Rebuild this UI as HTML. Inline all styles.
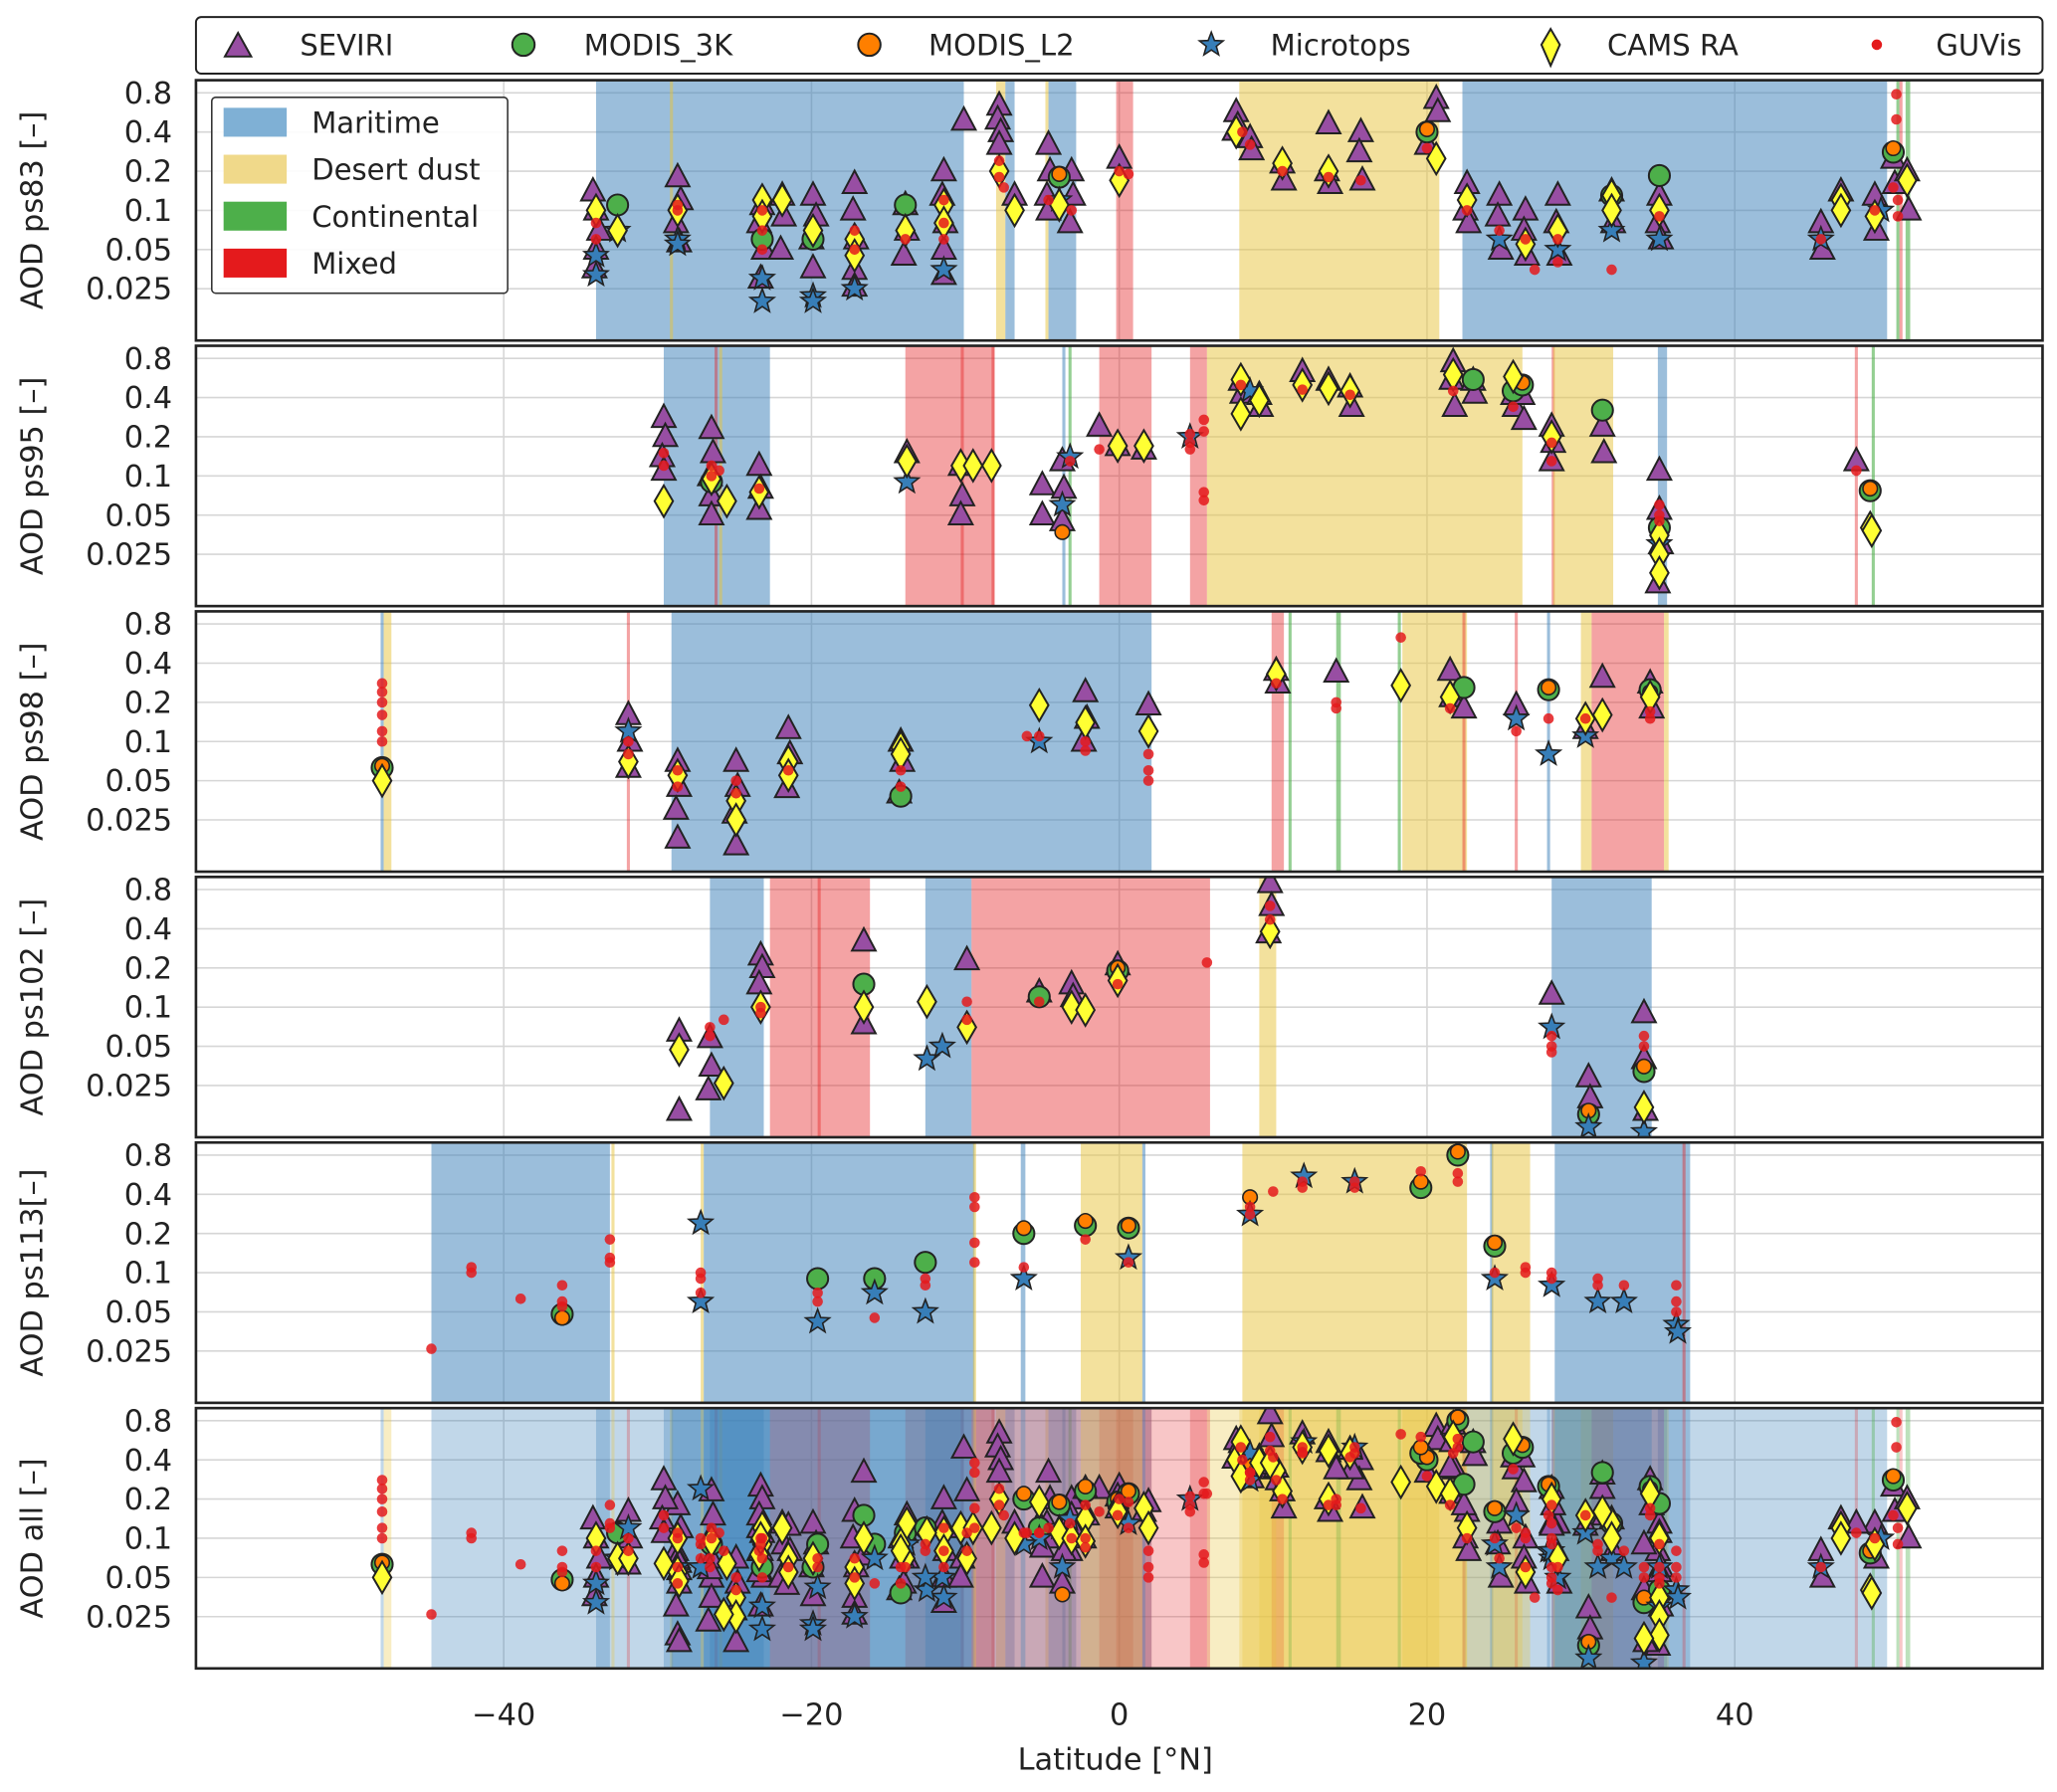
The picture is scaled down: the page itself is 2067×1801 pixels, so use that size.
<!DOCTYPE html>
<html><head><meta charset="utf-8">
<style>
html,body{margin:0;padding:0;background:#fff;}
svg{display:block;font-family:"DejaVu Sans","Liberation Sans",sans-serif;}
</style></head>
<body>
<svg id="chart" xmlns="http://www.w3.org/2000/svg" width="2067" height="1801" viewBox="0 0 1564 1363" preserveAspectRatio="none">
<g id="top-legend">
  <rect x="149" y="13" width="1404" height="43" rx="4" fill="#fff" stroke="#222" stroke-width="1.5"/>
  <g><polygon points="181,25 171,43 191,43" fill="#984ea3" stroke="#222" stroke-width="1.5"/><text x="228" y="42" font-size="22" fill="#222">SEVIRI</text></g>
  <g><circle cx="398" cy="34" r="8.5" fill="#4daf4a" stroke="#222" stroke-width="1.5"/><text x="444" y="42" font-size="22" fill="#222">MODIS_3K</text></g>
  <g><circle cx="661" cy="34" r="8.5" fill="#ff7f00" stroke="#222" stroke-width="1.5"/><text x="706" y="42" font-size="22" fill="#222">MODIS_L2</text></g>
  <g><polygon id="legstar" fill="#377eb8" stroke="#222" stroke-width="1.2"/><text x="966" y="42" font-size="22" fill="#222">Microtops</text></g>
  <g><polygon points="1179,22 1186,34 1179,50 1172,34" fill="#ffff33" stroke="#222" stroke-width="1.5"/><text x="1222" y="42" font-size="22" fill="#222">CAMS RA</text></g>
  <g><circle cx="1427" cy="34" r="4" fill="#e41a1c"/><text x="1472" y="42" font-size="22" fill="#222">GUVis</text></g>
</g>
<g id="panels"></g>
<g id="xaxis"></g>
<text x="848" y="1346" font-size="23" text-anchor="middle" fill="#222">Latitude [°N]</text>
</svg>
<script>
// ---------- data ----------
const xTicks = [-40,-20,0,20,40];
const yTicks = [0.8,0.4,0.2,0.1,0.05,0.025];
const yTickLabels = ["0.8","0.4","0.2","0.1","0.05","0.025"];
const panelNames = ["ps83","ps95","ps98","ps102","ps113","all"];
const panelLabels = ["AOD ps83 [–]","AOD ps95 [–]","AOD ps98 [–]","AOD ps102 [–]","AOD ps113[–]","AOD all [–]"];

const p1Regions = [[-34.0,-10.1,"M"],[-29.2,-29.0,"D"],[-8.0,-7.4,"D"],[-7.4,-6.8,"M"],[-4.8,-4.6,"D"],[-4.6,-2.8,"M"],[-0.2,0.9,"X"],[7.8,20.8,"D"],[22.3,49.9,"M"],[50.5,50.7,"C"],[50.7,50.9,"X"],[51.1,51.4,"C"]];
const p2Regions = [[-29.6,-22.7,"M"],[-26.3,-26.1,"X"],[-26.0,-25.8,"D"],[-13.9,-8.1,"X"],[-10.3,-10.1,"X"],[-8.3,-8.1,"X"],[-3.7,-3.5,"M"],[-3.3,-3.1,"C"],[-1.3,2.1,"X"],[4.6,5.7,"X"],[5.7,26.2,"D"],[28.1,28.3,"X"],[28.2,32.1,"D"],[35.0,35.6,"M"],[47.8,48.0,"X"],[48.9,49.1,"C"]];
const p3Regions = [[-48.0,-47.8,"M"],[-47.8,-47.3,"D"],[-32.0,-31.8,"X"],[-29.1,2.1,"M"],[9.9,10.7,"X"],[11.0,11.2,"C"],[14.1,14.4,"C"],[18.1,18.3,"C"],[18.4,22.6,"D"],[22.3,22.5,"X"],[25.7,25.9,"X"],[27.8,28.0,"M"],[30.0,30.7,"D"],[30.7,35.4,"X"],[35.4,35.7,"D"]];
const p4Regions = [[-26.6,-23.1,"M"],[-22.7,-16.2,"X"],[-19.6,-19.4,"X"],[-12.6,-9.6,"M"],[-9.6,5.9,"X"],[9.1,10.2,"D"],[28.1,34.6,"M"]];
const p5Regions = [[-44.7,-33.1,"M"],[-33.0,-32.8,"D"],[-27.2,-27.0,"D"],[-27.0,-9.4,"M"],[-9.5,-9.3,"D"],[-6.4,-6.1,"M"],[-2.5,1.5,"D"],[1.5,1.7,"M"],[8.0,22.6,"D"],[24.1,24.3,"M"],[24.2,26.7,"D"],[28.3,37.1,"M"],[36.6,36.8,"X"]];

const p1Seviri=[[-34.2,0.14],[-34,0.1],[-33.8,0.07],[-34,0.05],[-34.1,0.036],[-28.7,0.18],[-28.5,0.12],[-28.8,0.08],[-28.6,0.057],[-23.2,0.11],[-23.4,0.08],[-23.1,0.05],[-23.3,0.03],[-21.9,0.13],[-21.8,0.09],[-22,0.05],[-19.9,0.13],[-19.7,0.09],[-20,0.06],[-19.9,0.036],[-17.2,0.16],[-17.3,0.1],[-17.1,0.06],[-17.2,0.035],[-17.2,0.026],[-13.9,0.11],[-13.8,0.07],[-14,0.045],[-11.4,0.2],[-11.5,0.13],[-11.3,0.08],[-11.4,0.05],[-11.4,0.032],[-10.1,0.49],[-7.8,0.64],[-7.9,0.5],[-7.7,0.4],[-7.8,0.32],[-6.8,0.13],[-4.6,0.32],[-4.5,0.2],[-4.7,0.13],[-4.6,0.1],[-3.1,0.2],[-3,0.13],[-3.2,0.08],[0,0.25],[7.6,0.57],[7.7,0.45],[7.5,0.41],[8.5,0.36],[8.6,0.29],[10.6,0.23],[10.7,0.17],[13.6,0.46],[13.5,0.2],[13.7,0.16],[15.7,0.4],[15.6,0.28],[15.8,0.17],[20.6,0.72],[20.7,0.57],[20,0.32],[22.6,0.16],[22.5,0.1],[22.7,0.08],[24.7,0.13],[24.6,0.09],[24.8,0.05],[26.4,0.1],[26.3,0.07],[26.5,0.045],[28.5,0.13],[28.4,0.08],[28.6,0.045],[32,0.14],[32.1,0.08],[35.1,0.13],[35,0.08],[35.2,0.06],[45.6,0.08],[45.7,0.05],[46.9,0.14],[49.1,0.13],[49.2,0.07],[50.3,0.25],[50.4,0.16],[51.2,0.2],[51.3,0.1]];
const p1Modis3k=[[-32.6,0.11],[-23.2,0.06],[-19.9,0.06],[-13.9,0.11],[-3.9,0.18],[20,0.4],[32,0.13],[35.1,0.185],[50.3,0.28]];
const p1ModisL2=[[20,0.42],[50.3,0.3],[-3.9,0.19]];
const p1Microtops=[[-34,0.045],[-34,0.032],[-32.6,0.07],[-28.7,0.06],[-28.7,0.055],[-23.2,0.03],[-23.2,0.02],[-19.9,0.022],[-19.9,0.02],[-17.2,0.025],[-11.4,0.035],[-3.9,0.12],[24.7,0.06],[28.5,0.05],[35.1,0.06],[32,0.07],[49.5,0.1],[45.6,0.06]];
const p1Cams=[[-34,0.1],[-32.6,0.07],[-28.7,0.1],[-23.2,0.12],[-23.2,0.09],[-21.9,0.12],[-19.9,0.07],[-17.2,0.06],[-17.2,0.045],[-13.9,0.07],[-11.4,0.11],[-11.4,0.08],[-7.8,0.2],[-6.8,0.1],[-3.9,0.11],[0,0.17],[7.6,0.4],[10.6,0.23],[13.6,0.2],[20.6,0.25],[22.6,0.12],[26.4,0.055],[28.5,0.07],[32,0.13],[32,0.1],[35.1,0.1],[46.9,0.12],[46.9,0.1],[51.2,0.17],[49.1,0.09]];
const p1Guvis=[[-34,0.08],[-34,0.06],[-28.7,0.11],[-28.7,0.1],[-23.2,0.1],[-23.2,0.07],[-23.2,0.05],[-17.2,0.07],[-17.2,0.05],[-13.9,0.06],[-11.4,0.12],[-11.4,0.08],[-11.4,0.06],[-7.8,0.24],[-7.8,0.18],[-7.5,0.15],[-4.6,0.12],[-3.1,0.1],[0,0.2],[0.6,0.19],[8,0.4],[8.5,0.32],[10.6,0.2],[13.6,0.18],[15.7,0.17],[20,0.3],[22.6,0.1],[24.7,0.07],[26.4,0.06],[27,0.035],[28.5,0.06],[28.5,0.04],[32,0.035],[35.1,0.09],[45.6,0.06],[49.1,0.1],[50.5,0.78],[50.5,0.5],[50.3,0.15],[50.6,0.12],[50.6,0.09]];

const p2Seviri=[[-29.6,0.28],[-29.5,0.2],[-29.7,0.14],[-29.6,0.11],[-26.5,0.23],[-26.4,0.15],[-26.6,0.1],[-26.5,0.07],[-26.5,0.05],[-23.4,0.12],[-23.3,0.08],[-23.4,0.055],[-13.8,0.15],[-10.3,0.12],[-10.2,0.07],[-10.3,0.05],[-5,0.085],[-5,0.05],[-3.7,0.13],[-3.6,0.08],[-3.7,0.045],[-1.3,0.24],[-0.1,0.17],[1.6,0.16],[7.9,0.54],[8,0.43],[9.1,0.42],[9.2,0.34],[11.9,0.63],[13.6,0.54],[15,0.48],[15.1,0.34],[21.7,0.75],[21.6,0.55],[21.8,0.34],[23,0.54],[23.1,0.43],[25.6,0.42],[25.7,0.34],[26.2,0.42],[26.3,0.27],[28.1,0.24],[28.2,0.18],[28.1,0.13],[31.4,0.24],[31.5,0.15],[35.1,0.11],[35.1,0.055],[35.2,0.03],[35,0.015],[47.9,0.13]];
const p2Modis3k=[[-26.5,0.09],[23,0.55],[25.6,0.45],[26.2,0.5],[31.4,0.32],[35.1,0.04],[48.8,0.077]];
const p2ModisL2=[[-3.7,0.037],[26.2,0.52],[48.8,0.08]];
const p2Microtops=[[-13.8,0.09],[-3.7,0.06],[-3.2,0.14],[4.6,0.2],[8.5,0.45],[35.1,0.03]];
const p2Cams=[[-29.6,0.064],[-26.5,0.095],[-25.5,0.064],[-23.4,0.075],[-13.8,0.13],[-10.3,0.12],[-9.5,0.12],[-8.3,0.12],[-0.1,0.17],[1.6,0.17],[7.9,0.55],[7.9,0.3],[9.1,0.38],[11.9,0.5],[13.6,0.47],[15,0.45],[21.7,0.6],[25.6,0.58],[28.1,0.2],[35.1,0.035],[35.1,0.025],[35.1,0.018],[48.8,0.04],[48.9,0.038]];
const p2Guvis=[[-29.6,0.15],[-29.6,0.12],[-26.5,0.12],[-26.5,0.1],[-26,0.11],[-23.4,0.08],[-3.2,0.13],[-1.3,0.16],[4.6,0.21],[4.6,0.18],[4.6,0.16],[5.5,0.27],[5.5,0.22],[5.5,0.065],[5.5,0.075],[7.9,0.5],[11.9,0.46],[15,0.42],[21.7,0.45],[25.6,0.34],[28.1,0.18],[28.1,0.13],[35.1,0.06],[35.1,0.05],[35.1,0.045],[47.9,0.11]];

const p3Seviri=[[-31.9,0.16],[-31.8,0.1],[-31.9,0.063],[-28.7,0.07],[-28.6,0.045],[-28.8,0.03],[-28.7,0.018],[-24.9,0.07],[-24.8,0.045],[-25,0.028],[-24.9,0.016],[-21.5,0.125],[-21.4,0.08],[-21.6,0.044],[-14.2,0.1],[-14.1,0.07],[-14.3,0.04],[-2.2,0.24],[-2.1,0.15],[-2.3,0.1],[1.9,0.19],[10.2,0.35],[10.3,0.28],[14.1,0.34],[21.5,0.35],[21.6,0.22],[22.4,0.18],[25.8,0.19],[30.3,0.125],[31.4,0.31],[34.5,0.28],[34.6,0.18]];
const p3Modis3k=[[-47.9,0.063],[-14.2,0.038],[22.4,0.26],[27.9,0.25],[34.5,0.25]];
const p3ModisL2=[[-47.9,0.065],[27.9,0.26],[34.5,0.24]];
const p3Microtops=[[-31.9,0.12],[-5.2,0.1],[25.8,0.15],[27.9,0.08],[30.3,0.11]];
const p3Cams=[[-47.9,0.05],[-31.9,0.07],[-28.7,0.055],[-24.9,0.035],[-24.9,0.025],[-21.5,0.07],[-21.5,0.055],[-14.2,0.09],[-14.2,0.08],[-5.2,0.19],[-2.2,0.14],[1.9,0.12],[10.2,0.33],[18.3,0.27],[21.5,0.22],[30.3,0.15],[31.4,0.16],[34.5,0.22]];
const p3Guvis=[[-47.9,0.28],[-47.9,0.24],[-47.9,0.2],[-47.9,0.16],[-47.9,0.12],[-47.9,0.1],[-31.9,0.1],[-31.9,0.08],[-28.7,0.06],[-28.7,0.045],[-24.9,0.05],[-24.9,0.04],[-21.5,0.06],[-14.2,0.06],[-14.2,0.045],[-5.2,0.11],[-6,0.11],[-2.2,0.1],[-2.2,0.085],[1.9,0.08],[1.9,0.06],[1.9,0.05],[10.2,0.28],[14.1,0.2],[14.1,0.18],[18.3,0.63],[21.5,0.18],[25.8,0.12],[27.9,0.15],[30.3,0.15],[34.5,0.17],[34.5,0.15]];

const p4Seviri=[[-28.6,0.065],[-28.6,0.016],[-26.6,0.058],[-26.5,0.035],[-26.7,0.023],[-23.3,0.25],[-23.2,0.2],[-23.4,0.15],[-16.6,0.32],[-16.6,0.074],[-9.9,0.23],[-5.2,0.13],[-3.1,0.15],[-3,0.12],[-0.1,0.21],[9.8,0.9],[9.9,0.6],[9.7,0.37],[28.1,0.125],[30.5,0.029],[30.6,0.02],[34.1,0.09],[34.1,0.04],[34.2,0.016]];
const p4Modis3k=[[-16.6,0.15],[-5.2,0.12],[-0.1,0.19],[30.5,0.015],[34.1,0.032]];
const p4ModisL2=[[-0.1,0.2],[30.5,0.016],[34.1,0.035]];
const p4Microtops=[[-12.5,0.04],[-11.5,0.05],[28.1,0.07],[30.5,0.012],[34.1,0.011]];
const p4Cams=[[-28.6,0.047],[-25.7,0.026],[-23.3,0.1],[-16.6,0.1],[-12.5,0.11],[-9.9,0.07],[-3.1,0.1],[-2.2,0.095],[-0.1,0.16],[9.8,0.38],[34.1,0.017]];
const p4Guvis=[[-26.6,0.07],[-26.6,0.06],[-25.7,0.08],[-23.3,0.1],[-23.3,0.09],[-9.9,0.11],[-9.9,0.08],[-5.2,0.11],[-0.1,0.15],[5.7,0.22],[9.8,0.6],[9.8,0.47],[28.1,0.06],[28.1,0.05],[28.1,0.045],[34.1,0.06],[34.1,0.05]];

const p5Seviri=[];
const p5Modis3k=[[-36.2,0.048],[-19.6,0.09],[-15.9,0.09],[-12.6,0.12],[-6.2,0.2],[-2.2,0.23],[0.6,0.22],[19.6,0.45],[22,0.8],[24.4,0.16]];
const p5ModisL2=[[-36.2,0.045],[-6.2,0.22],[-2.2,0.25],[0.6,0.23],[8.5,0.38],[19.6,0.5],[22,0.85],[24.4,0.17]];
const p5Microtops=[[-27.2,0.24],[-27.2,0.06],[-19.6,0.042],[-15.9,0.07],[-12.6,0.05],[-6.2,0.09],[0.6,0.13],[8.5,0.28],[12,0.55],[15.3,0.5],[24.4,0.09],[28.1,0.08],[31.1,0.06],[32.8,0.06],[36.2,0.04],[36.3,0.035]];
const p5Cams=[];
const p5Guvis=[[-44.7,0.026],[-42.1,0.11],[-42.1,0.1],[-38.9,0.063],[-36.2,0.08],[-36.2,0.06],[-36.2,0.055],[-33.1,0.18],[-33.1,0.13],[-33.1,0.12],[-27.2,0.1],[-27.2,0.09],[-27.2,0.07],[-19.6,0.07],[-19.6,0.06],[-15.9,0.045],[-12.6,0.09],[-12.6,0.08],[-9.4,0.38],[-9.4,0.32],[-9.4,0.17],[-9.4,0.12],[-6.2,0.11],[-2.2,0.18],[0.6,0.12],[8.5,0.32],[8.5,0.28],[10,0.42],[11.9,0.5],[11.9,0.45],[15.3,0.5],[15.3,0.45],[19.6,0.6],[22,0.58],[22,0.5],[24.4,0.1],[26.4,0.11],[26.4,0.1],[28.1,0.1],[28.1,0.09],[31.1,0.09],[31.1,0.08],[32.8,0.08],[36.2,0.08],[36.2,0.06],[36.2,0.05]];

// ---------- rendering ----------
const NS="http://www.w3.org/2000/svg";
const svg=document.getElementById('chart');
const panelsG=document.getElementById('panels');
const X0=149, X1=1553, LAT0=-60, LAT1=60;
const PH=198, PGAP=202, PTOP=61;
function xScale(lat){return X0+(lat-LAT0)/(LAT1-LAT0)*(X1-X0);}
function yScale(v,top){return top+(0-Math.log10(v))/2*PH;}
function mk(tag,attrs,parent){const e=document.createElementNS(NS,tag);for(const k in attrs)e.setAttribute(k,attrs[k]);parent.appendChild(e);return e;}
function starPts(cx,cy,R,r){let p=[];for(let i=0;i<10;i++){const a=-Math.PI/2+i*Math.PI/5;const rr=i%2?r:R;p.push((cx+rr*Math.cos(a)).toFixed(1)+","+(cy+rr*Math.sin(a)).toFixed(1));}return p.join(" ");}
document.getElementById('legstar').setAttribute('points',starPts(921,34,9.5,4));

const regionColor={M:"rgb(55,126,184)",D:"rgb(232,196,60)",C:"rgb(77,175,74)",X:"rgb(228,26,28)"};
const regionAlpha={M:0.5,D:0.5,C:0.6,X:0.4};
const regionName={M:"maritime",D:"desert-dust",C:"continental",X:"mixed"};
const allRegions=[p1Regions,p2Regions,p3Regions,p4Regions,p5Regions];
const allSeviri=[p1Seviri,p2Seviri,p3Seviri,p4Seviri,p5Seviri];
const allModis3k=[p1Modis3k,p2Modis3k,p3Modis3k,p4Modis3k,p5Modis3k];
const allModisL2=[p1ModisL2,p2ModisL2,p3ModisL2,p4ModisL2,p5ModisL2];
const allMicro=[p1Microtops,p2Microtops,p3Microtops,p4Microtops,p5Microtops];
const allCams=[p1Cams,p2Cams,p3Cams,p4Cams,p5Cams];
const allGuvis=[p1Guvis,p2Guvis,p3Guvis,p4Guvis,p5Guvis];

for(let k=0;k<6;k++){
  const top=PTOP+k*PGAP;
  const g=mk('g',{},panelsG);
  
  
  const clipId='clip'+k;
  const cp=mk('clipPath',{id:clipId},g);mk('rect',{x:X0,y:top,width:X1-X0,height:PH},cp);
  mk('rect',{x:X0,y:top,width:X1-X0,height:PH,fill:'#fff'},g);
  const inner=mk('g',{'clip-path':'url(#'+clipId+')'},g);
  xTicks.forEach(t=>{const l=mk('line',{x1:xScale(t),x2:xScale(t),y1:top,y2:top+PH,stroke:'#d6d6d6','stroke-width':1.2},inner);
    
    });
  yTicks.forEach(t=>{const l=mk('line',{x1:X0,x2:X1,y1:yScale(t,top),y2:yScale(t,top),stroke:'#d6d6d6','stroke-width':1.2},inner);
    
    });
  const idx = k<5 ? [k] : [0,1,2,3,4];
  const aMul = k<5 ? 1 : 0.62;
  idx.forEach(i=>allRegions[i].forEach(r=>{
    const x0=xScale(r[0]),x1=xScale(r[1]);
    const rc=mk('rect',{x:x0,y:top,width:Math.max(1,x1-x0),height:PH,fill:regionColor[r[2]],'fill-opacity':regionAlpha[r[2]]*aMul},inner);
    
    
  }));
  idx.forEach(i=>allSeviri[i].forEach(p=>{const x=xScale(p[0]),y=yScale(p[1],top);
    const m=mk('polygon',{points:`${x},${y-10} ${x-9},${y+7} ${x+9},${y+7}`,fill:'#984ea3',stroke:'#222','stroke-width':1.5},inner);
    
    }));
  idx.forEach(i=>allModis3k[i].forEach(p=>{
    const m=mk('circle',{cx:xScale(p[0]),cy:yScale(p[1],top),r:8,fill:'#4daf4a',stroke:'#222','stroke-width':1.5},inner);
    
    }));
  idx.forEach(i=>allModisL2[i].forEach(p=>{
    const m=mk('circle',{cx:xScale(p[0]),cy:yScale(p[1],top),r:5.5,fill:'#ff7f00',stroke:'#222','stroke-width':1.2},inner);
    
    }));
  idx.forEach(i=>allMicro[i].forEach(p=>{
    const m=mk('polygon',{points:starPts(xScale(p[0]),yScale(p[1],top),9.5,4),fill:'#377eb8',stroke:'#222','stroke-width':1.2},inner);
    
    }));
  idx.forEach(i=>allCams[i].forEach(p=>{const x=xScale(p[0]),y=yScale(p[1],top);
    const m=mk('polygon',{points:`${x},${y-12} ${x+7},${y} ${x},${y+12} ${x-7},${y}`,fill:'#ffff33',stroke:'#222','stroke-width':1.5},inner);
    
    }));
  idx.forEach(i=>allGuvis[i].forEach(p=>{
    const m=mk('circle',{cx:xScale(p[0]),cy:yScale(p[1],top),r:4,fill:'#e41a1c','fill-opacity':0.85},inner);
    
    }));
  mk('rect',{x:X0,y:top,width:X1-X0,height:PH,fill:'none',stroke:'#222','stroke-width':2},g);
  yTicks.forEach((t,j)=>{const tx=mk('text',{x:131,y:yScale(t,top)+8,'font-size':23,'text-anchor':'end',fill:'#222'},g);
    tx.textContent=yTickLabels[j];
    
    });
  const yl=mk('text',{x:0,y:0,'font-size':23,'text-anchor':'middle',fill:'#222',transform:`translate(32,${top+PH/2}) rotate(-90)`},g);
  yl.textContent=panelLabels[k];
  
  
}

(function(){
  const g=mk('g',{},svg);
  
  
  mk('rect',{x:161,y:74,width:225,height:149,rx:3,fill:'#fff','fill-opacity':0.9,stroke:'#333','stroke-width':1.2},g);
  const items=[["Maritime","#7fb0d5"],["Desert dust","#f0d98a"],["Continental","#4daf4a"],["Mixed","#e41a1c"]];
  items.forEach((it,i)=>{const cy=93+i*35.7;
    const r=mk('rect',{x:170,y:cy-11,width:48,height:22,fill:it[1]},g);
    
    
    const t=mk('text',{x:237,y:cy+8,'font-size':22,fill:'#222'},g);t.textContent=it[0];
    
    });
})();

const xa=document.getElementById('xaxis');
xTicks.forEach(t=>{const tx=mk('text',{x:xScale(t),y:1312,'font-size':23,'text-anchor':'middle',fill:'#222'},xa);
  tx.textContent=(t<0?"−":"")+Math.abs(t);
  
  });
</script>
</body></html>
